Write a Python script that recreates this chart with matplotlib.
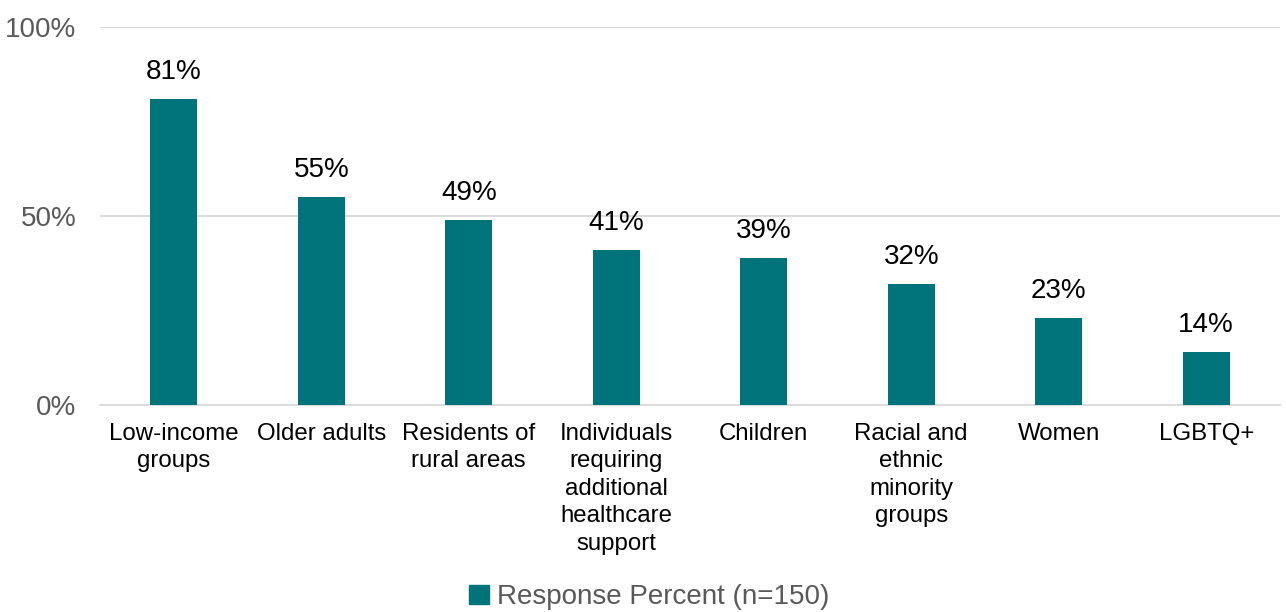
import matplotlib.pyplot as plt
from matplotlib.patches import Patch
from matplotlib.ticker import FuncFormatter

plt.rcParams['font.family'] = ['Liberation Sans', 'DejaVu Sans']

categories = ['Low-income\ngroups', 'Older adults', 'Residents of\nrural areas',
              'Individuals\nrequiring\nadditional\nhealthcare\nsupport',
              'Children', 'Racial and\nethnic\nminority\ngroups', 'Women', 'LGBTQ+']
values = [81, 55, 49, 41, 39, 32, 23, 14]
series_name = 'Response Percent (n=150)'

bar_col = '#00747A'
grey = '#595959'

fig = plt.figure(figsize=(12.86, 6.12), dpi=100)
ax = fig.add_axes([100/1286, 1 - 405/612, 1180/1286, 378/612])

x = range(len(values))
ax.bar(x, values, width=0.32, color=bar_col, zorder=3)
for xi, v in zip(x, values):
    ax.text(xi, v + 3.6, f'{v}%', ha='center', va='bottom', fontsize=20, color='black')

ax.set_xlim(-0.5, len(values) - 0.5)
ax.set_ylim(0, 100)
ax.set_yticks([0, 50, 100])
ax.yaxis.set_major_formatter(FuncFormatter(lambda v, p: f'{int(v)}%'))
ax.grid(axis='y', color='#D9D9D9', lw=1.3, zorder=0)
ax.set_xticks(list(x))
ax.set_xticklabels(categories, fontsize=17.3, linespacing=1.32, va='top')
ax.tick_params(axis='x', length=0, pad=13, colors='black')
ax.tick_params(axis='y', length=0, pad=17, labelsize=20, labelcolor=grey)
for s in ['top', 'right', 'left']:
    ax.spines[s].set_visible(False)
ax.spines['bottom'].set_color('#D9D9D9')
ax.spines['bottom'].set_linewidth(1.3)

fig.legend(handles=[Patch(color=bar_col, label=series_name)],
           loc='center', bbox_to_anchor=(0.505, 1 - 597/612), frameon=False,
           fontsize=20, labelcolor=grey, handlelength=0.7, handleheight=0.7,
           handletextpad=0.3)

fig.savefig('out.png', dpi=100)
